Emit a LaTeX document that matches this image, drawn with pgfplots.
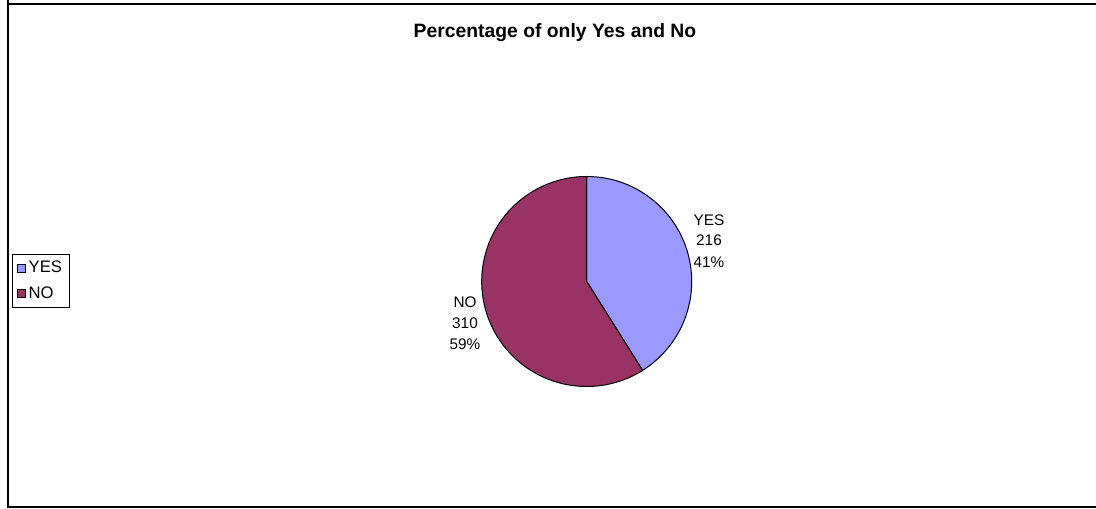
\documentclass[border=0pt]{standalone}
\usepackage{pgfplots}
\usepackage{pgfplotstable}
\usepackage{fontspec}
\setmainfont{Liberation Sans}
\pgfplotsset{compat=1.18}
\definecolor{yescol}{HTML}{9999FF}
\definecolor{nocol}{HTML}{993366}

\pgfplotstableread{
label value
YES 216
NO 310
}\piedata
\pgfplotstablegetelem{0}{value}\of\piedata \let\vyes\pgfplotsretval
\pgfplotstablegetelem{1}{value}\of\piedata \let\vno\pgfplotsretval
\pgfmathsetmacro\total{\vyes+\vno}
\pgfmathsetmacro\fyes{\vyes/\total}
\pgfmathsetmacro\fno{\vno/\total}
\pgfmathsetmacro\ayes{360*\fyes}
\pgfmathsetmacro\bnd{90-\ayes}
\pgfmathtruncatemacro\pyes{round(100*\fyes)}
\pgfmathtruncatemacro\pno{round(100*\fno)}

\begin{document}
\begin{tikzpicture}
\begin{axis}[
  x=0.75pt, y=0.75pt,
  xmin=0, xmax=1096, ymin=0, ymax=509,
  hide axis, clip=false,
  legend image code/.code={\draw[#1] (0pt,-3pt) rectangle (6pt,3pt);},
  legend style={at={(axis description cs:0.011,0.501)}, anchor=north west,
    draw=black, line width=0.75pt, font=\fontsize{12.5}{14}\selectfont,
    inner xsep=3pt, inner ysep=4pt, row sep=7pt,
    nodes={inner xsep=2.5pt, inner ysep=1pt}},
  legend cell align=left,
]
% frame
\draw[line width=1.2pt] (axis cs:8,1000) -- (axis cs:8,2) -- (axis cs:1110,2)
  (axis cs:8,505) -- (axis cs:1110,505);
% title
\node[anchor=base, font=\fontsize{14.5}{17}\selectfont\bfseries] at (axis cs:555,471) {Percentage of only Yes and No};
% slices
\fill[yescol, draw=black, line width=0.75pt, line join=round]
  (axis cs:586.7,227.5) -- ++(90:78.75pt) arc[start angle=90, end angle=\bnd, radius=78.75pt] -- cycle;
\fill[nocol, draw=black, line width=0.75pt, line join=round]
  (axis cs:586.7,227.5) -- ++(\bnd:78.75pt) arc[start angle=\bnd, end angle=-270, radius=78.75pt] -- cycle;
% labels
\begin{scope}[every node/.style={anchor=base, font=\fontsize{11.5}{14}\selectfont, inner sep=0pt}]
\node at (axis cs:709,283) {YES};
\node at (axis cs:709,263) {\vyes};
\node at (axis cs:709,241) {\pyes\%};
\node at (axis cs:465,201) {NO};
\node at (axis cs:465,180) {\vno};
\node at (axis cs:465,159) {\pno\%};
\end{scope}
\addlegendimage{fill=yescol, draw=black, line width=0.6pt}
\addlegendentry{YES}
\addlegendimage{fill=nocol, draw=black, line width=0.6pt}
\addlegendentry{NO}
\end{axis}
\pgfresetboundingbox
\path (0,0) rectangle (822pt,381.75pt);
\end{tikzpicture}
\end{document}
